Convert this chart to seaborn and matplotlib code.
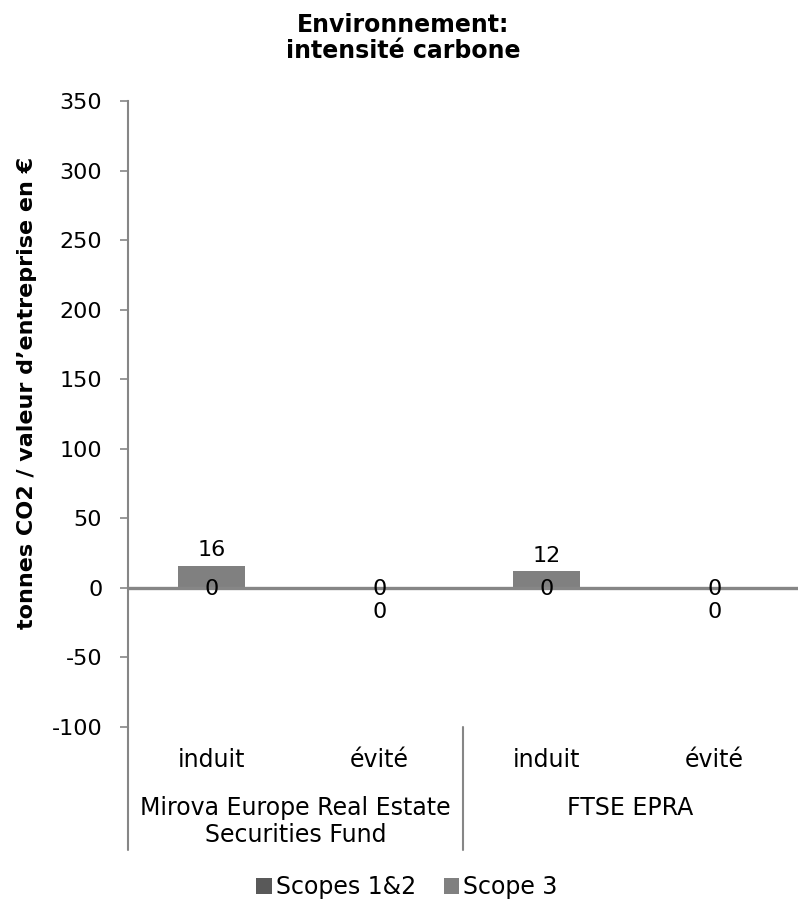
import numpy as np
import pandas as pd
import matplotlib
matplotlib.use("Agg")
import matplotlib.pyplot as plt
import matplotlib.transforms as mtransforms
from matplotlib.patches import Patch
import seaborn as sns

# ---- data ----
funds = ["Mirova Europe Real Estate\nSecurities Fund", "FTSE EPRA"]
types = ["induit", "évité"]
scopes12 = [0, 0, 0, 0]
scope3 = [16, 0, 12, 0]
series = ["Scopes 1&2", "Scope 3"]
yticks = [-100, -50, 0, 50, 100, 150, 200, 250, 300, 350]
title = "Environnement:\nintensité carbone"
ylabel = "tonnes CO2 / valeur d’entreprise en €"

colors = ["#595959", "#808080"]
axis_gray = "#868686"

sns.set_theme(style="white")
plt.rcParams['font.family'] = ['DejaVu Sans']
plt.rcParams['text.color'] = 'black'
plt.rcParams['axes.labelcolor'] = 'black'
plt.rcParams['xtick.color'] = 'black'
plt.rcParams['ytick.color'] = 'black'

keys = [f"{f}|{t}" for f in funds for t in types]
df = pd.DataFrame({"key": keys, "s12": scopes12, "s3": scope3})
df["total"] = df["s12"] + df["s3"]

W, H = 798, 901
fig = plt.figure(figsize=(W / 100, H / 100), dpi=100)
ax = fig.add_axes([128 / W, 1 - 727 / H, 670 / W, 626 / H])

sns.barplot(data=df, x="key", y="total", order=keys, color=colors[1], width=0.4,
            saturation=1, errorbar=None, linewidth=0, ax=ax)
sns.barplot(data=df, x="key", y="s12", order=keys, color=colors[0], width=0.4,
            saturation=1, errorbar=None, linewidth=0, ax=ax)

ax.set_xlim(-0.5, len(keys) - 0.5)
ax.set_ylim(yticks[0], yticks[-1])
ax.set_yticks(yticks)
ax.set_yticklabels([str(v) for v in yticks], fontsize=16, color="black")
ax.tick_params(axis="y", direction="out", length=6, width=1.2, color=axis_gray,
               pad=12.5, left=True, labelcolor="black")
ax.tick_params(axis="x", length=0, labelbottom=False)
ax.set_xlabel("")
ax.set_ylabel("")
for s in ["top", "right", "bottom"]:
    ax.spines[s].set_visible(False)
ax.spines["left"].set_color(axis_gray)
ax.spines["left"].set_linewidth(1.5)
ax.axhline(0, color=axis_gray, lw=2.4, zorder=3)

# data labels
for i, (a, b) in enumerate(zip(scopes12, scope3)):
    ax.annotate(str(a), xy=(i, a), xytext=(0, -1), textcoords="offset points",
                ha="center", va="center", fontsize=16, zorder=5)
    if b > 0:
        ax.annotate(str(b), xy=(i, a + b), xytext=(0, 11), textcoords="offset points",
                    ha="center", va="center", fontsize=16, zorder=5)
    else:
        ax.annotate(str(b), xy=(i, a + b), xytext=(0, -17), textcoords="offset points",
                    ha="center", va="center", fontsize=16, zorder=5)

# category labels below the plot
def px2ax(ypx):
    return (727 - ypx) / 626

trans = mtransforms.blended_transform_factory(ax.transData, ax.transAxes)
for i, k in enumerate(keys):
    ax.text(i, px2ax(767), types[i % len(types)], transform=trans, ha="center",
            va="baseline", fontsize=17)
for g, f in enumerate(funds):
    cx = g * len(types) + (len(types) - 1) / 2
    for j, line in enumerate(f.split("\n")):
        ax.text(cx, px2ax(815 + 27 * j), line, transform=trans, ha="center",
                va="baseline", fontsize=17)
for sx in [-0.5, 1.5]:
    ax.plot([sx, sx], [0, px2ax(850)], transform=trans, color=axis_gray, lw=1.5,
            clip_on=False)

# title and y label
fig.text(403 / W, 1 - 38 / H, title, ha="center", va="center", fontsize=17,
         fontweight="bold", linespacing=1.15)
fig.text(27 / W, 1 - 393 / H, ylabel, ha="center", va="center", rotation=90,
         fontsize=16, fontweight="bold")

handles = [Patch(facecolor=c, edgecolor="none", label=l) for c, l in zip(colors, series)]
fig.legend(handles=handles, loc="center", bbox_to_anchor=(407 / W, 1 - 887 / H), ncol=2,
           frameon=False, fontsize=17, handlelength=0.64, handleheight=0.64,
           handletextpad=0.17, columnspacing=1.2, borderpad=0, borderaxespad=0)

fig.savefig("out.png", dpi=100)
